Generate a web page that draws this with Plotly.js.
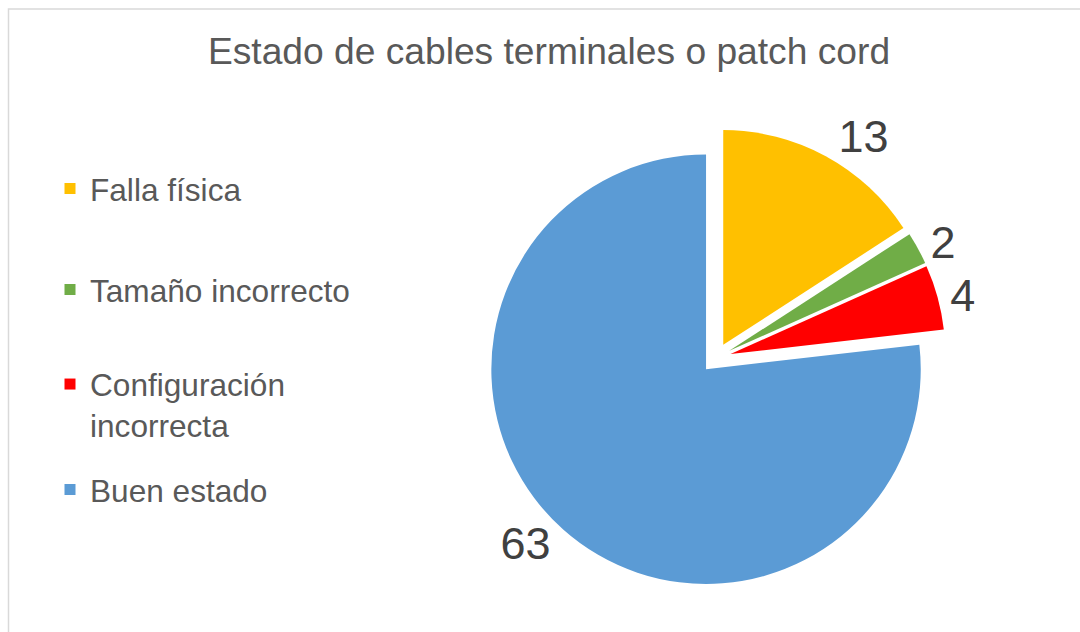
<!DOCTYPE html>
<html>
<head>
<meta charset="utf-8">
<script src="https://cdn.plot.ly/plotly-3.0.1.min.js"></script>
<style>html,body{margin:0;padding:0;background:#fff;}#chart{width:1080px;height:632px;}</style>
</head>
<body>
<div id="chart"></div>
<script>
const categories = ["Falla física", "Tamaño incorrecto", "Configuración incorrecta", "Buen estado"];
const legendLabels = ["Falla física", "Tamaño incorrecto", "Configuración<br>incorrecta", "Buen estado"];
const values = [13, 2, 4, 63];
const colors = ["#FFC000", "#70AD47", "#FF0000", "#5B9BD5"];
const titleText = "Estado de cables terminales o patch cord";

const FONT = "Liberation Sans, Arial, sans-serif";

const pie = {
  type: "pie",
  labels: categories,
  values: values,
  sort: false,
  direction: "clockwise",
  rotation: 0,
  pull: values.map(() => 0.07),
  marker: {colors: colors, line: {width: 0}},
  textinfo: "value",
  textposition: "outside",
  outsidetextfont: {family: FONT, size: 45, color: "#404040"},
  domain: {x: [0.45, 0.876], y: [0.070, 0.797]},
  showlegend: false,
  hoverinfo: "none"
};

const legendNames = ["legend", "legend2", "legend3", "legend4"];
const legendTraces = categories.map((c, i) => ({
  type: "scatter",
  mode: "markers",
  x: [null], y: [null],
  name: legendLabels[i],
  marker: {symbol: "square", size: 11, color: colors[i]},
  legend: legendNames[i],
  showlegend: true,
  hoverinfo: "none"
}));

const legendY = [189, 290, 405, 490];
const legendBase = {
  font: {family: FONT, size: 31.6, color: "#595959"},
  bgcolor: "rgba(0,0,0,0)",
  borderwidth: 0,
  xanchor: "left",
  yanchor: "middle",
  x: 50 / 1080
};
const layout = {
  width: 1080,
  height: 632,
  margin: {l: 0, r: 0, t: 0, b: 0},
  paper_bgcolor: "#ffffff",
  plot_bgcolor: "#ffffff",
  title: {
    text: titleText,
    font: {family: FONT, size: 37.2, color: "#595959"},
    x: 549 / 1080, xanchor: "center",
    y: 1 - 51 / 632, yanchor: "middle"
  },
  xaxis: {visible: false},
  yaxis: {visible: false},
  shapes: [{
    type: "rect", xref: "paper", yref: "paper",
    x0: 8.5 / 1080, x1: 1.02, y0: 1 - 9 / 632, y1: -0.02,
    line: {color: "#d9d9d9", width: 1.5}
  }]
};
legendNames.forEach((n, i) => {
  layout[n] = Object.assign({}, legendBase, {y: 1 - legendY[i] / 632, valign: i === 2 ? "top" : "middle"});
});

Plotly.newPlot("chart", [pie].concat(legendTraces), layout, {displayModeBar: false, staticPlot: true});
</script>
</body>
</html>
